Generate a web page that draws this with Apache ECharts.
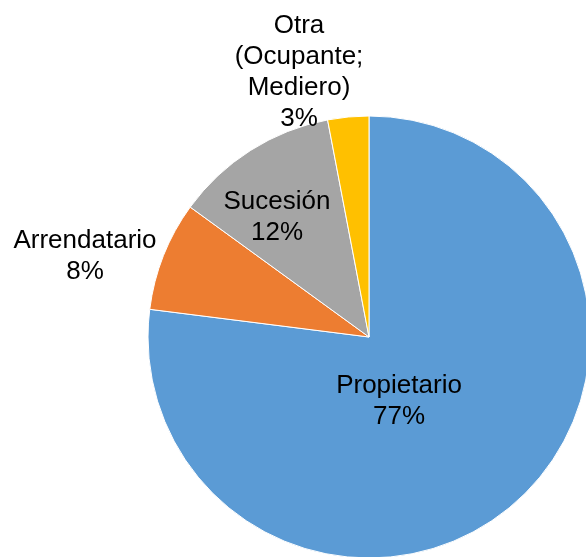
<!DOCTYPE html>
<html>
<head>
<meta charset="utf-8">
<script src="https://cdn.jsdelivr.net/npm/echarts@6/dist/echarts.min.js"></script>
<style>
  html, body { margin: 0; padding: 0; background: #fff; }
  #chart { width: 586px; height: 557px; }
</style>
</head>
<body>
<div id="chart"></div>
<script>
// tenencia de la tierra
const categories = ['Propietario', 'Arrendatario', 'Sucesión', 'Otra\n(Ocupante;\nMediero)'];
const shares = [77, 8, 12, 3];
const colors = ['#5B9BD5', '#ED7D31', '#A5A5A5', '#FFC000'];

// where the labels sit (centre of each text block, px)
const labelSpots = [[399, 401], [85, 256], [277, 217], [299, 72]];

const chart = echarts.init(document.getElementById('chart'));

chart.setOption({
  animation: false,
  series: [{
    type: 'pie',
    center: [369, 337],
    radius: 221,
    startAngle: 90,
    clockwise: true,
    avoidLabelOverlap: false,
    itemStyle: { borderColor: '#fff', borderWidth: 1 },
    label: {
      show: true,
      position: 'inside',
      color: '#000',
      fontFamily: 'Liberation Sans, Arial, sans-serif',
      fontSize: 26,
      lineHeight: 31,
      align: 'center',
      formatter: p => p.name + '\n' + p.value + '%'
    },
    labelLine: { show: false },
    labelLayout: p => ({
      x: labelSpots[p.dataIndex][0],
      y: labelSpots[p.dataIndex][1],
      align: 'center',
      verticalAlign: 'middle'
    }),
    emphasis: { disabled: true },
    data: categories.map((c, i) => ({
      name: c,
      value: shares[i],
      itemStyle: { color: colors[i] }
    }))
  }]
});
</script>
</body>
</html>
